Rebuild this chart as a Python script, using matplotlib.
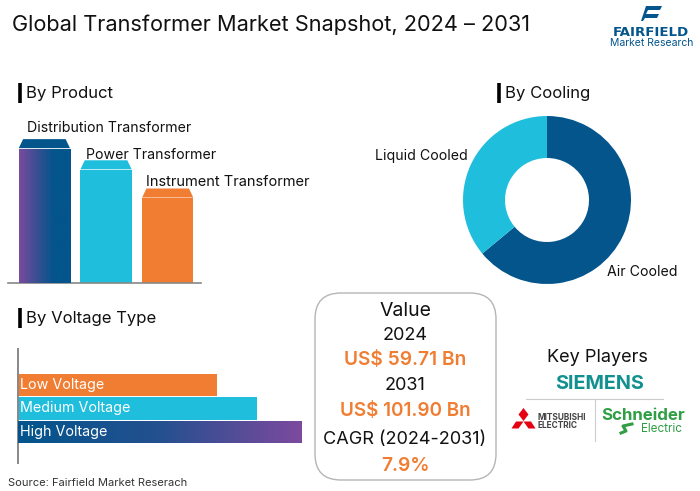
# Global transformer market snapshot infographic
import matplotlib
matplotlib.use('Agg')
import matplotlib.pyplot as plt
import numpy as np
from matplotlib.patches import FancyBboxPatch, Polygon
from matplotlib.colors import LinearSegmentedColormap

plt.rcParams['font.family'] = ['Inter', 'DejaVu Sans']

# data
productNames = ['Distribution Transformer', 'Power Transformer', 'Instrument Transformer']
productValues = [47.5, 40, 30]
coolingNames = ['Air Cooled', 'Liquid Cooled']
coolingValues = [64, 36]
voltageNames = ['High Voltage', 'Medium Voltage', 'Low Voltage']
voltageValues = [50, 42, 35]

blue = '#03558c'
cyan = '#1fbedc'
orange = '#f07d31'
purple = '#7c4a9e'
W, H = 700, 491


def axesAt(x0, y0, x1, y1):  # y0 is the top edge, in picture pixels
    return fig.add_axes([x0/W, 1-y1/H, (x1-x0)/W, (y1-y0)/H])


def gradientFill(ax, patch, colors):  # left to right gradient clipped to a bar
    cmap = LinearSegmentedColormap.from_list('bar', colors)
    x, y = patch.get_x(), patch.get_y()
    w, h = patch.get_width(), patch.get_height()
    xlim, ylim = ax.get_xlim(), ax.get_ylim()
    im = ax.imshow(np.linspace(0, 1, 256).reshape(1, -1), cmap=cmap, aspect='auto',
                   extent=[x, x+w, y, y+h], zorder=3)
    im.set_clip_path(patch)
    ax.set_xlim(xlim)
    ax.set_ylim(ylim)


fig = plt.figure(figsize=(7, 4.91), dpi=100)

# overlay in pixel coordinates for the text and decorations
bg = fig.add_axes([0, 0, 1, 1])
bg.set_xlim(0, W)
bg.set_ylim(H, 0)
bg.axis('off')

bg.text(12, 25, 'Global Transformer Market Snapshot, 2024 – 2031', fontsize=15.65,
        va='center', color='#111111')

# section headings
for x, y, label in [(20, 93, 'By Product'), (499, 93, 'By Cooling'), (20, 318, 'By Voltage Type')]:
    bg.plot([x, x], [y-10, y+10], color='black', linewidth=2.6, solid_capstyle='butt')
    bg.text(x+6, y, label, fontsize=12, va='center', color='#111111')

# By Product bars
ax1 = axesAt(8, 100, 201, 283)
barPos = [0, 1, 2]
ax1.set_xlim(-0.59, 2.54)
ax1.set_ylim(0, 47.5*183/134)
bars = ax1.bar(barPos, productValues, width=0.83, color=[blue, cyan, orange], zorder=2)
gradientFill(ax1, bars[0], [purple, '#3a4f93', blue, blue])
capColors = [blue, cyan, orange]
capHeight = 3.2
for i, b in enumerate(bars):
    left, right, top = b.get_x(), b.get_x()+b.get_width(), b.get_height()+0.3
    ax1.add_patch(Polygon([(left, top), (right, top), (right-0.07, top+capHeight),
                           (left+0.07, top+capHeight)], color=capColors[i], zorder=2, lw=0))
    ax1.text(left+[0.13, 0.09, 0.06][i], top+capHeight+[3.8, 1.8, 2.2][i], productNames[i],
             fontsize=[10.2, 10.2, 10.5][i], va='center', color='#111111', zorder=4)
for side in ['top', 'right', 'left']:
    ax1.spines[side].set_visible(False)
ax1.spines['bottom'].set_color('#888888')
ax1.spines['bottom'].set_linewidth(1.2)
ax1.set_xticks([])
ax1.set_yticks([])
ax1.patch.set_alpha(0)

# By Cooling donut
ax2 = axesAt(547-90, 200-90, 547+90, 200+90)
ax2.pie(coolingValues, colors=[blue, cyan], startangle=90, counterclock=False,
        radius=84/90, wedgeprops={'width': 42/90, 'linewidth': 0})
ax2.set_xlim(-1, 1)
ax2.set_ylim(-1, 1)
bg.text(375, 156, coolingNames[1], fontsize=10.2, va='center', color='#111111')
bg.text(607, 272, coolingNames[0], fontsize=10.2, va='center', color='#111111')

# By Voltage bars
ax3 = axesAt(18, 349, 310, 463)
ax3.set_xlim(0, 50*292/284)
ax3.set_ylim(-1.32, 3.53)
hbars = ax3.barh([0, 1, 2], voltageValues, height=0.94, color=[blue, cyan, orange], zorder=2)
gradientFill(ax3, hbars[0], [blue, '#24508f', purple])
for i, name in enumerate(voltageNames):
    ax3.text(0.4, i, name, fontsize=10.3, va='center', color='white', zorder=4)
for side in ['top', 'right', 'bottom']:
    ax3.spines[side].set_visible(False)
ax3.spines['left'].set_color('#888888')
ax3.spines['left'].set_linewidth(1.4)
ax3.set_xticks([])
ax3.set_yticks([])
ax3.patch.set_alpha(0)

bg.text(8, 483, 'Source: Fairfield Market Reserach', fontsize=8, va='center', color='#333333')

# value box
bg.add_patch(FancyBboxPatch((315, 293), 181, 187, boxstyle='round,pad=0,rounding_size=26',
                            facecolor='white', edgecolor='#b5b5b5', linewidth=1, zorder=0))
boxLines = [(311, 'Value', '#111111', 14, 'normal'), (335, '2024', '#111111', 13, 'normal'),
            (360, 'US$ 59.71 Bn', orange, 13.8, 'semibold'), (386, '2031', '#111111', 13, 'normal'),
            (411, 'US$ 101.90 Bn', orange, 13.6, 'semibold'), (440, 'CAGR (2024-2031)', '#111111', 13, 'normal'),
            (466, '7.9%', orange, 13.8, 'semibold')]
for y, label, color, size, weight in boxLines:
    bg.text(405, y, label, fontsize=size, color=color, fontweight=weight, ha='center', va='center')

# key players
bg.text(597, 357, 'Key Players', fontsize=13, ha='center', va='center', color='#111111')
bg.text(600, 384, 'SIEMENS', fontsize=14.3, fontweight='bold', ha='center', va='center', color='#12908f')
bg.plot([526, 663], [399, 399], color='#cccccc', linewidth=0.8)
bg.plot([594.5, 594.5], [400, 441], color='#cccccc', linewidth=0.8)

# three diamond logo
diamonds = [[(523.5, 408), (528.5, 414.5), (523.5, 421), (518.5, 414.5)],
            [(523.5, 421.5), (531, 421.5), (535.5, 428.5), (528.5, 428.5)],
            [(523.5, 421.5), (516, 421.5), (511.5, 428.5), (518.5, 428.5)]]
for pts in diamonds:
    bg.add_patch(Polygon(pts, color='#e50012', lw=0))
bg.text(538, 417, 'MITSUBISHI', fontsize=6, fontweight='bold', va='center', color='#444444')
bg.text(538, 426, 'ELECTRIC', fontsize=6, fontweight='bold', va='center', color='#444444')
bg.text(643, 415, 'Schneider', fontsize=12.2, fontweight='bold', ha='center', va='center', color='#2f9e44')
bg.text(661, 429.5, 'Electric', fontsize=8.4, ha='center', va='center', color='#2f9e44')
bg.plot([621, 626, 623, 632], [433, 431, 426, 424], color='#2f9e44', linewidth=2.2)

# company logo
bg.add_patch(Polygon([(646, 6), (662, 6), (660, 10), (648, 10), (646, 14), (659, 14), (657, 18),
                      (645, 18), (643, 21), (641, 21)], color=blue, lw=0))
bg.text(651, 32, 'FAIRFIELD', fontsize=9.6, fontweight='bold', family='DejaVu Sans',
        ha='center', va='center', color=blue)
bg.text(652, 43, 'Market Research', fontsize=7.5, ha='center', va='center', color=blue)

fig.savefig('out.png', dpi=100)
